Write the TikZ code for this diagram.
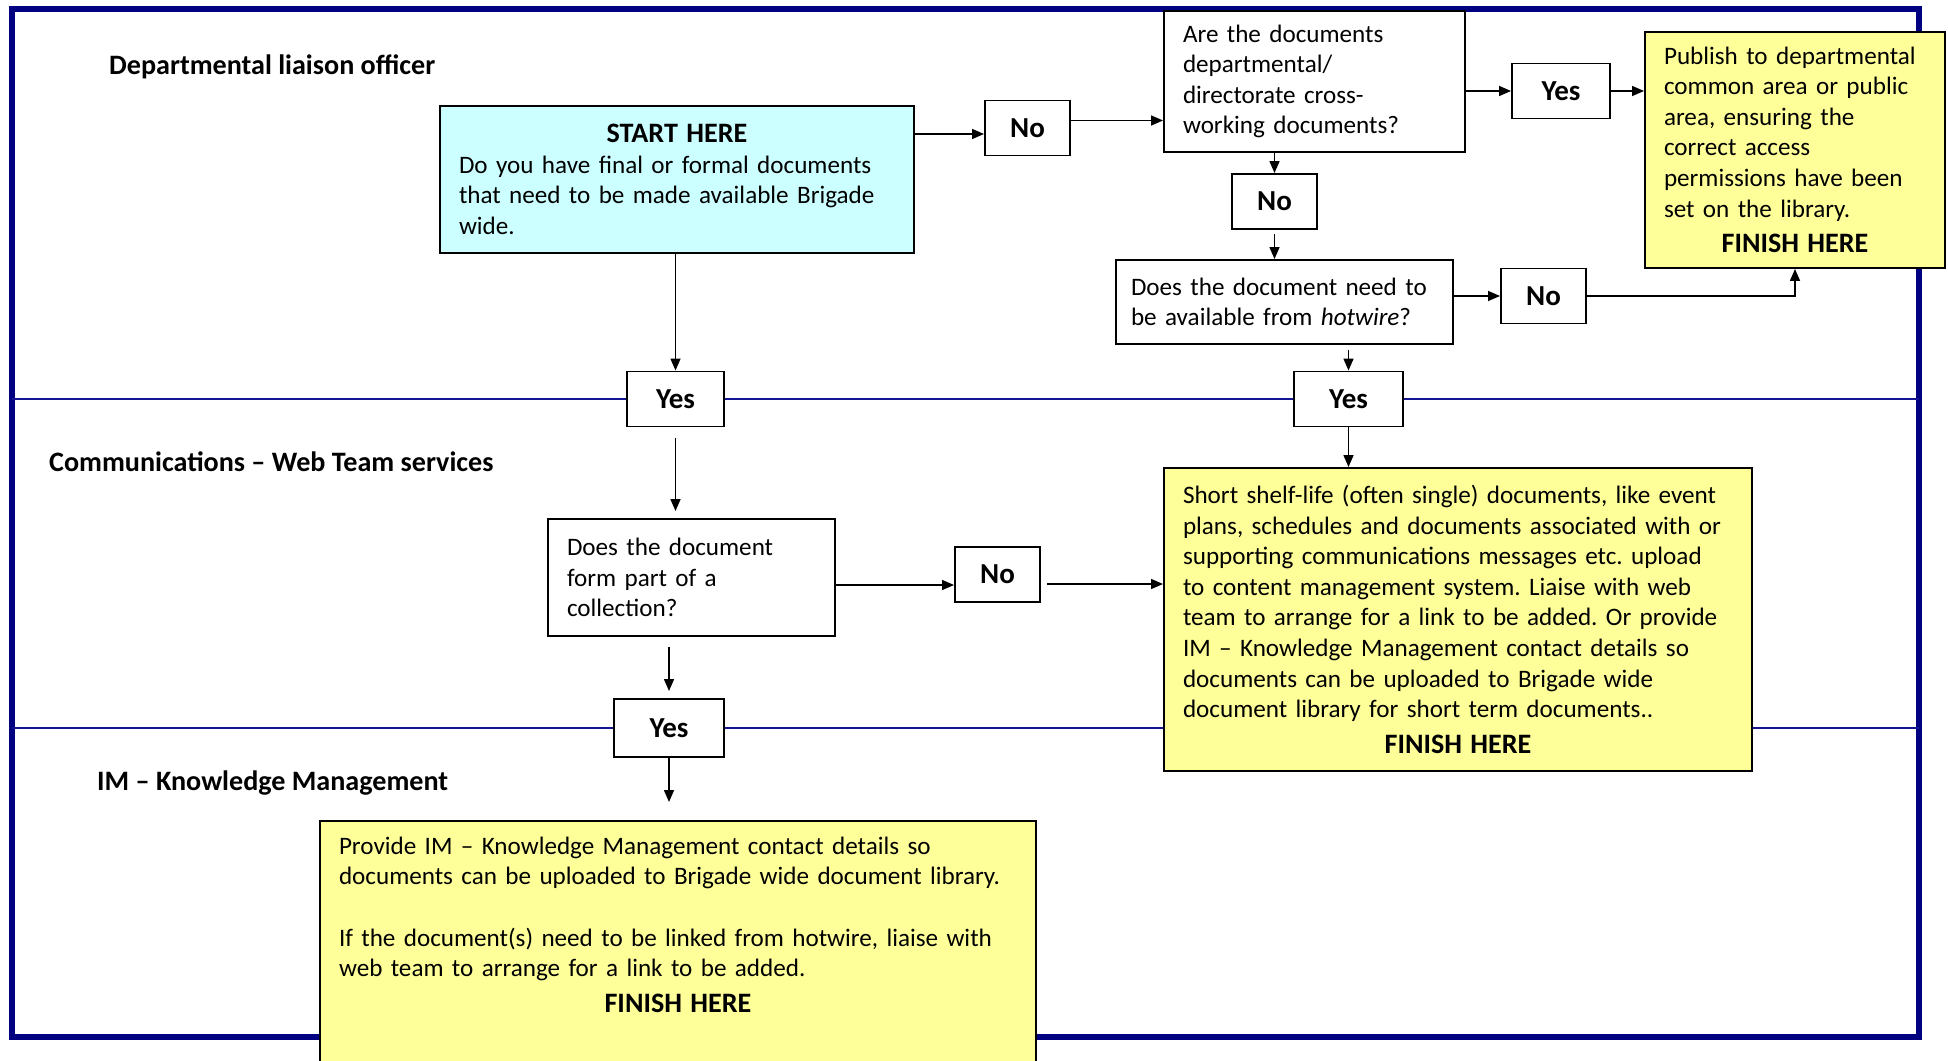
\documentclass[tikz,border=0pt]{standalone}
\usepackage{fontspec}
\setmainfont{Carlito}
\usetikzlibrary{positioning, arrows.meta, calc}

\definecolor{framenavy}{RGB}{0,0,128}
\definecolor{lanenavy}{RGB}{20,20,145}
\definecolor{startcyan}{RGB}{204,255,255}
\definecolor{finishyellow}{RGB}{255,255,153}

\newcommand{\bodyfont}{\fontsize{14.3}{17.4}\selectfont\frenchspacing}
\newcommand{\headfont}{\fontsize{16}{17.4}\selectfont\bfseries}
\newcommand{\finishhere}{\makebox[\linewidth]{\headfont FINISH HERE}}

\begin{document}
\begin{tikzpicture}[
  font=\bodyfont,
  lanebar/.style={draw=lanenavy, line width=1.4pt},
  lanename/.style={anchor=west, font=\headfont},
  box/.style={draw, line width=1.1pt, align=left, inner xsep=0.38cm, inner ysep=0pt},
  startbox/.style={box, fill=startcyan},
  endbox/.style={box, fill=finishyellow},
  answer/.style={draw, line width=1.1pt, fill=white, minimum width=1.7cm,
                 minimum height=1.1cm, inner sep=0pt, font=\fontsize{16.5}{18}\selectfont\bfseries},
  flow/.style={-{Triangle[length=2.4mm, width=2mm]}, line width=0.85pt},
]
  \useasboundingbox (0,0) rectangle (38.96,-21.22);

  % --- swimlane frame ---
  \def\Lft{0.24} \def\Rgt{38.38}
  \def\LaneA{-7.98} \def\LaneB{-14.56}
  \draw[framenavy, line width=3pt] (\Lft,-0.18) rectangle (\Rgt,-20.74);
  \draw[lanebar] (\Lft,\LaneA) -- (\Rgt,\LaneA);
  \draw[lanebar] (\Lft,\LaneB) -- (\Rgt,\LaneB);

  % --- lane names ---
  \node[lanename] (dlo) at (2.06,-1.33) {Departmental liaison officer};
  \node[lanename] (web) at (0.86,-9.24) {Communications -- Web Team services};
  \node[lanename] (ikm) at (1.82,-15.66) {IM -- Knowledge Management};

  % --- departmental lane ---
  \node[startbox, text width=8.72cm, minimum height=2.94cm] (start) at (13.54,-3.59)
    {\makebox[\linewidth]{\headfont START HERE}\\
     Do you have final or formal documents\\
     that need to be made available Brigade\\
     wide.};
  \node[answer] (no1) at (20.55,-2.56) {No};
  \node[box, text width=5.26cm, minimum height=2.82cm] (cross) at (26.29,-1.63)
    {Are the documents\\ departmental/\\ directorate cross-\\ working documents?};
  \node[answer, minimum width=1.96cm] (yes1) at (31.22,-1.82) {Yes};
  \node[endbox, text width=5.24cm, minimum height=4.72cm] (publish) at (35.9,-3.0)
    {Publish to departmental\\ common area or public\\ area, ensuring the\\
     correct access\\ permissions have been\\ set on the library.\\[3pt]
     \finishhere};
  \node[answer] (no2) at (25.49,-4.03) {No};
  \node[box, text width=6.14cm, inner xsep=0.3cm, minimum height=1.68cm] (hotwire) at (25.69,-6.04)
    {Does the document need to\\ be available from \textit{hotwire}?};
  \node[answer] (no3) at (30.87,-5.92) {No};

  % --- answers on the lane boundary ---
  \node[answer, minimum width=1.94cm] (yesL) at (13.51,\LaneA) {Yes};
  \node[answer, minimum width=2.18cm] (yesR) at (26.97,\LaneA) {Yes};

  % --- web team lane ---
  \node[box, text width=4.98cm, minimum height=2.34cm] (collect) at (13.83,-11.55)
    {Does the document\\ form part of a\\ collection?};
  \node[answer] (no4) at (19.95,-11.49) {No};
  \node[endbox, text width=11.0cm, minimum height=6.06cm] (shortlife) at (29.16,-12.39)
    {Short shelf-life (often single) documents, like event\\
     plans, schedules and documents associated with or\\
     supporting communications messages etc. upload\\
     to content management system. Liaise with web\\
     team to arrange for a link to be added. Or provide\\
     IM -- Knowledge Management contact details so\\
     documents can be uploaded to Brigade wide\\
     document library for short term documents..\\[3pt]
     \finishhere};
  \node[answer, minimum width=2.2cm, minimum height=1.16cm] (yesM) at (13.38,\LaneB) {Yes};

  % --- knowledge management lane ---
  \node[endbox, text width=13.56cm, inner ysep=0.32cm, anchor=north] (library) at (13.56,-16.4)
    {Provide IM -- Knowledge Management contact details so\\
     documents can be uploaded to Brigade wide document library.\\[\baselineskip]
     If the document(s) need to be linked from hotwire, liaise with\\
     web team to arrange for a link to be added.\\[3pt]
     \finishhere\rule[-1.3cm]{0pt}{0pt}};

  % --- connectors ---
  \draw[flow] ([yshift=-0.12cm]start.east |- no1.west) -- ([yshift=-0.12cm]no1.west);
  \draw[flow] ([yshift=0.15cm]no1.east) -- ([yshift=0.15cm]no1.east -| cross.west);
  \draw[flow] (cross.east |- yes1.west) -- (yes1.west);
  \draw[flow] (yes1.east) -- (yes1.east -| publish.west);
  \draw[flow] (cross.south -| no2.north) -- (no2.north);
  \draw[flow, shorten <=0.08cm] (no2.south) -- (no2.south |- hotwire.north);
  \draw[flow] (hotwire.east |- no3.west) -- (no3.west);
  \draw[flow] (no3.east) -| (publish.south);
  \draw[flow, shorten <=0.1cm] (hotwire.south -| yesR.north) -- (yesR.north);
  \draw[flow] (yesR.south) -- (yesR.south |- shortlife.north);
  \draw[flow] (start.south -| yesL.north) -- (yesL.north);
  \draw[flow, shorten <=0.22cm, shorten >=0.14cm] (yesL.south) -- (yesL.south |- collect.north);
  \draw[flow] ([yshift=-0.15cm]collect.east) -- ([yshift=-0.15cm]collect.east -| no4.west);
  \draw[flow, shorten <=0.12cm] ([yshift=-0.19cm]no4.east) -- ([yshift=-0.19cm]no4.east -| shortlife.west);
  \draw[flow, shorten <=0.2cm, shorten >=0.14cm] (yesM.north |- collect.south) -- (yesM.north);
  \draw[flow, shorten >=0.36cm] (yesM.south) -- (yesM.south |- library.north);
\end{tikzpicture}
\end{document}
